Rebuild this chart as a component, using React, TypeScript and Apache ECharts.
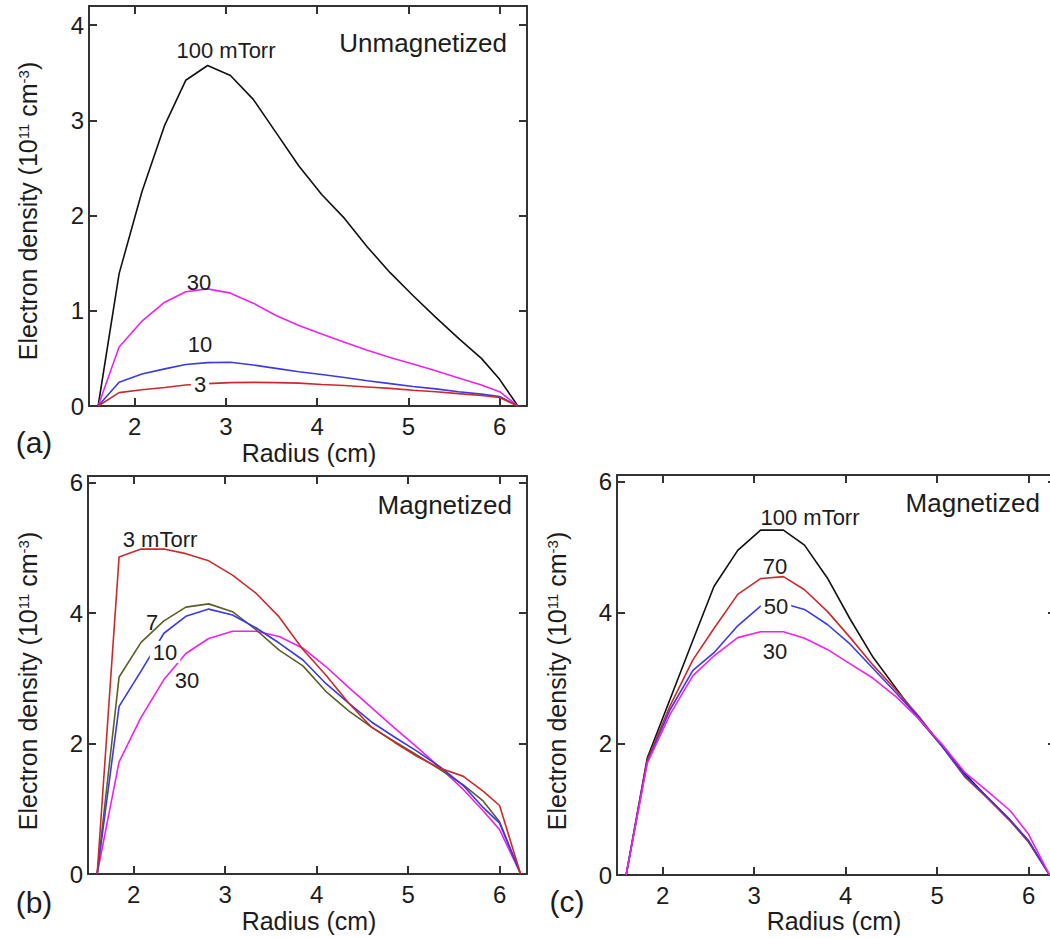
import React, { useEffect, useRef } from "react";
import * as echarts from "echarts";

// ---------- tick values ----------
const xTicks = [2, 3, 4, 5, 6];
const yTicksA = [0, 1, 2, 3, 4];
const yTicksBC = [0, 2, 4, 6];

// ---------- panel (a): unmagnetized ----------
const radiusA = [1.6, 1.83, 2.08, 2.33, 2.56, 2.8, 3.05, 3.3, 3.55, 3.8, 4.05, 4.3, 4.55, 4.8, 5.05, 5.3, 5.55, 5.8, 6.0, 6.2];
const a100 = [0, 1.39, 2.25, 2.95, 3.42, 3.575, 3.47, 3.22, 2.87, 2.52, 2.22, 1.97, 1.67, 1.4, 1.16, 0.93, 0.71, 0.5, 0.28, 0];
const a30 = [0, 0.62, 0.89, 1.09, 1.2, 1.23, 1.185, 1.08, 0.95, 0.845, 0.755, 0.67, 0.585, 0.51, 0.44, 0.37, 0.295, 0.22, 0.15, 0];
const a10 = [0, 0.25, 0.335, 0.39, 0.435, 0.455, 0.46, 0.43, 0.395, 0.36, 0.33, 0.3, 0.265, 0.235, 0.205, 0.18, 0.15, 0.125, 0.1, 0];
const a3 = [0, 0.14, 0.17, 0.195, 0.22, 0.235, 0.245, 0.248, 0.245, 0.24, 0.225, 0.215, 0.2, 0.185, 0.165, 0.15, 0.13, 0.11, 0.09, 0];

// ---------- panel (b): magnetized, low pressure ----------
const radiusB = [1.6, 1.84, 2.08, 2.33, 2.57, 2.82, 3.08, 3.34, 3.59, 3.85, 4.1, 4.35, 4.6, 4.85, 5.1, 5.35, 5.6, 5.82, 6.0, 6.23];
const b3 = [0, 4.86, 4.98, 4.98, 4.91, 4.8, 4.58, 4.3, 3.94, 3.44, 3.05, 2.62, 2.25, 2.02, 1.8, 1.62, 1.5, 1.27, 1.05, 0];
const b7 = [0, 3.02, 3.55, 3.88, 4.09, 4.14, 4.02, 3.74, 3.43, 3.19, 2.8, 2.5, 2.25, 2.03, 1.82, 1.6, 1.37, 1.12, 0.8, 0];
const b10 = [0, 2.57, 3.11, 3.69, 3.95, 4.06, 3.97, 3.77, 3.54, 3.28, 2.92, 2.62, 2.33, 2.1, 1.88, 1.64, 1.36, 1.02, 0.78, 0];
const b30 = [0, 1.72, 2.4, 2.98, 3.38, 3.61, 3.72, 3.72, 3.64, 3.46, 3.18, 2.86, 2.55, 2.24, 1.94, 1.63, 1.3, 0.97, 0.68, 0];

// ---------- panel (c): magnetized, high pressure ----------
const radiusC = [1.6, 1.83, 2.08, 2.33, 2.56, 2.82, 3.07, 3.32, 3.55, 3.8, 4.05, 4.3, 4.55, 4.8, 5.05, 5.3, 5.55, 5.8, 6.0, 6.23];
const c100 = [0, 1.78, 2.68, 3.58, 4.4, 4.95, 5.26, 5.26, 5.03, 4.53, 3.9, 3.32, 2.85, 2.38, 1.97, 1.55, 1.18, 0.83, 0.52, 0];
const c70 = [0, 1.75, 2.58, 3.28, 3.76, 4.28, 4.52, 4.55, 4.35, 4.02, 3.62, 3.2, 2.82, 2.42, 1.97, 1.5, 1.17, 0.82, 0.5, 0];
const c50 = [0, 1.72, 2.52, 3.12, 3.39, 3.8, 4.1, 4.14, 4.05, 3.82, 3.52, 3.15, 2.78, 2.4, 1.97, 1.52, 1.19, 0.84, 0.52, 0];
const c30 = [0, 1.7, 2.45, 3.04, 3.34, 3.62, 3.71, 3.71, 3.61, 3.44, 3.22, 3.0, 2.72, 2.38, 2.0, 1.57, 1.28, 0.98, 0.62, 0];

const FONT = "'Liberation Sans', Arial, Helvetica, sans-serif";
const INK = "#1c1c1c";
const AXIS = "#333";
const C_BLACK = "#111111";
const C_MAG = "#ee22ee";
const C_BLUE = "#3a3ae8";
const C_RED = "#cc2a2a";
const C_OLIVE = "#5e5e28";

const zip = (xs: number[], ys: number[]) => xs.map((x, i) => [x, ys[i]]);

const grids = [
  { left: 89, top: 6, width: 438, height: 400 },
  { left: 88, top: 476, width: 439, height: 398 },
  { left: 617, top: 475, width: 439, height: 400 },
];
const yMaxes = [4.2, 6.1, 6.1];
const yTickSets = [yTicksA, yTicksBC, yTicksBC];

function axisLineStyle() {
  return { show: true, onZero: false, lineStyle: { color: AXIS, width: 2 } };
}
function tickStyle(values: number[]) {
  return { show: true, inside: true, length: 8, customValues: values, lineStyle: { color: AXIS, width: 2 } };
}

function buildAxes() {
  const xAxis: any[] = [];
  const yAxis: any[] = [];
  grids.forEach((_, gi) => {
    xAxis.push({
      type: "value", gridIndex: gi, min: 1.5, max: 6.3, position: "bottom",
      axisLine: axisLineStyle(), axisTick: tickStyle(xTicks),
      axisLabel: { show: true, customValues: xTicks, margin: 8, fontSize: 24, color: INK, fontFamily: FONT },
      splitLine: { show: false },
    });
    xAxis.push({
      type: "value", gridIndex: gi, min: 1.5, max: 6.3, position: "top",
      axisLine: axisLineStyle(), axisTick: tickStyle(xTicks),
      axisLabel: { show: false }, splitLine: { show: false },
    });
    yAxis.push({
      type: "value", gridIndex: gi, min: 0, max: yMaxes[gi], position: "left",
      axisLine: axisLineStyle(), axisTick: tickStyle(yTickSets[gi]),
      axisLabel: { show: true, customValues: yTickSets[gi], margin: 5, fontSize: 24, color: INK, fontFamily: FONT },
      splitLine: { show: false },
    });
    yAxis.push({
      type: "value", gridIndex: gi, min: 0, max: yMaxes[gi], position: "right",
      axisLine: axisLineStyle(), axisTick: tickStyle(yTickSets[gi].filter((v) => v > 0)),
      axisLabel: { show: false }, splitLine: { show: false },
    });
  });
  return { xAxis, yAxis };
}

function line(name: string, gi: number, xs: number[], ys: number[], color: string) {
  return {
    type: "line", name, xAxisIndex: gi * 2, yAxisIndex: gi * 2,
    data: zip(xs, ys), showSymbol: false, symbol: "none",
    lineStyle: { color, width: 1.6 }, itemStyle: { color }, z: 2,
  };
}

function label(text: string, x: number, y: number, size: number, opts: any = {}) {
  return {
    type: "text", x, y, z: 100,
    style: {
      text, fill: INK, fontSize: size, fontFamily: FONT,
      align: opts.align || "center", verticalAlign: "middle",
      backgroundColor: opts.bg ? "#ffffff" : undefined,
      padding: opts.bg ? [0, 3, 0, 3] : undefined,
    },
  };
}

function yTitle(x: number, y: number) {
  return {
    type: "text", x, y, z: 100, rotation: Math.PI / 2,
    style: {
      text: "{n|Electron density (10}{s|11}{n| cm}{s|-3}{n|)}",
      align: "center", verticalAlign: "middle",
      rich: {
        n: { fontSize: 25, fontFamily: FONT, fill: INK, color: INK },
        s: { fontSize: 15, fontFamily: FONT, fill: INK, color: INK, verticalAlign: "top" },
      },
    },
  };
}

export default function App() {
  const ref = useRef<HTMLDivElement>(null);
  useEffect(() => {
    if (!ref.current) return;
    const chart = echarts.init(ref.current, null, { renderer: "svg" });
    const { xAxis, yAxis } = buildAxes();
    chart.setOption({
      animation: false,
      backgroundColor: "#ffffff",
      grid: grids.map((g) => ({ ...g, containLabel: false, outerBoundsMode: "none", show: false })),
      xAxis,
      yAxis,
      series: [
        line("a 100 mTorr", 0, radiusA, a100, C_BLACK),
        line("a 30", 0, radiusA, a30, C_MAG),
        line("a 10", 0, radiusA, a10, C_BLUE),
        line("a 3", 0, radiusA, a3, C_RED),
        line("b 30", 1, radiusB, b30, C_MAG),
        line("b 7", 1, radiusB, b7, C_OLIVE),
        line("b 10", 1, radiusB, b10, C_BLUE),
        line("b 3 mTorr", 1, radiusB, b3, C_RED),
        line("c 100 mTorr", 2, radiusC, c100, C_BLACK),
        line("c 70", 2, radiusC, c70, C_RED),
        line("c 50", 2, radiusC, c50, C_BLUE),
        line("c 30", 2, radiusC, c30, C_MAG),
      ],
      graphic: [
        // panel (a)
        label("Unmagnetized", 507, 43, 26, { align: "right" }),
        label("100 mTorr", 226, 50, 22),
        label("30", 199, 282, 22),
        label("10", 200, 344, 22),
        label("3", 200, 384, 22, { bg: true }),
        label("(a)", 34, 442, 30),
        label("Radius (cm)", 309, 453, 25),
        yTitle(28, 211),
        // panel (b)
        label("Magnetized", 512, 505, 26, { align: "right" }),
        label("3 mTorr", 160, 539, 22),
        label("7", 152, 622, 22),
        label("10", 165, 652, 22, { bg: true }),
        label("30", 187, 680, 22),
        label("(b)", 34, 902, 30),
        label("Radius (cm)", 309, 921, 25),
        yTitle(28, 681),
        // panel (c)
        label("Magnetized", 1040, 503, 26, { align: "right" }),
        label("100 mTorr", 810, 517, 22),
        label("70", 775, 566, 22),
        label("50", 776, 606, 22, { bg: true }),
        label("30", 775, 651, 22),
        label("(c)", 567, 901, 30),
        label("Radius (cm)", 834, 921, 25),
        yTitle(557, 681),
      ],
    });
    return () => chart.dispose();
  }, []);
  return (
    <div
      ref={ref}
      style={{ position: "absolute", left: 0, top: 0, width: 1050, height: 938, background: "#fff" }}
    />
  );
}
